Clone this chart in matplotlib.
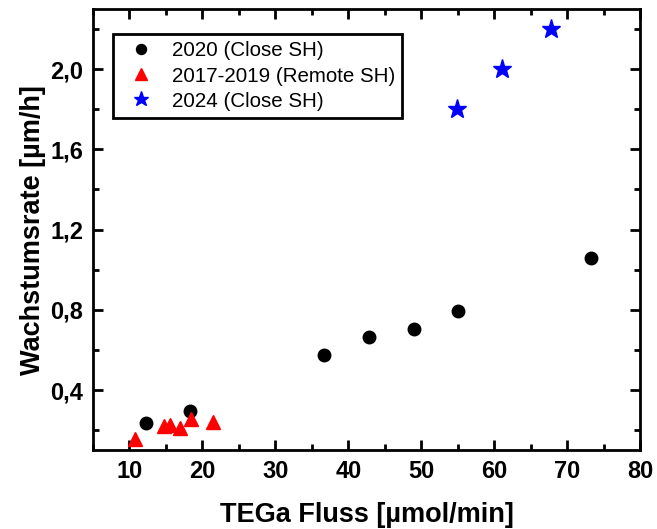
import matplotlib
matplotlib.use("Agg")
import matplotlib.pyplot as plt
from matplotlib.ticker import MultipleLocator, FuncFormatter

plt.rcParams['font.family'] = ['Liberation Sans', 'DejaVu Sans']

x_2020 = [12.2, 18.3, 36.7, 42.8, 49.0, 55.1, 73.3]
y_2020 = [0.235, 0.295, 0.575, 0.665, 0.705, 0.795, 1.06]
x_remote = [10.7, 14.8, 15.5, 16.9, 18.4, 21.4]
y_remote = [0.155, 0.22, 0.225, 0.21, 0.255, 0.24]
x_2024 = [54.9, 61.1, 67.8]
y_2024 = [1.8, 2.0, 2.2]

labels = ["2020 (Close SH)", "2017-2019 (Remote SH)", "2024 (Close SH)"]

fig = plt.figure(figsize=(6.57, 5.29), dpi=100)
ax = fig.add_axes([0.1416, 0.149, 0.8325, 0.834])

ax.plot(x_2020, y_2020, 'o', color='black', markersize=9, linestyle='none', label=labels[0])
ax.plot(x_remote, y_remote, '^', color='red', markersize=10, linestyle='none', label=labels[1])
ax.plot(x_2024, y_2024, '*', color='blue', markersize=14, linestyle='none', label=labels[2])

ax.set_xlim(5, 80)
ax.set_ylim(0.1, 2.3)
ax.xaxis.set_major_locator(MultipleLocator(10))
ax.xaxis.set_minor_locator(MultipleLocator(5))
ax.yaxis.set_major_locator(MultipleLocator(0.4))
ax.yaxis.set_minor_locator(MultipleLocator(0.2))
ax.yaxis.set_major_formatter(FuncFormatter(lambda v, p: f"{v:.1f}".replace('.', ',')))

for s in ax.spines.values():
    s.set_linewidth(2)
ax.tick_params(which='both', direction='in', top=True, right=True, width=2)
ax.tick_params(which='major', length=7, labelsize=17, pad=7)
ax.tick_params(which='minor', length=4)
for lab in ax.get_xticklabels() + ax.get_yticklabels():
    lab.set_fontweight('bold')

ax.set_xlabel("TEGa Fluss [µmol/min]", fontsize=19.5, fontweight='bold', labelpad=14)
ax.set_ylabel("Wachstumsrate [µm/h]", fontsize=19.5, fontweight='bold', labelpad=3)

leg = ax.legend(loc='upper left', bbox_to_anchor=(0.0366, 0.943), fontsize=14.8, frameon=True,
                fancybox=False, edgecolor='black', framealpha=1, handletextpad=0.45,
                borderpad=0.35, borderaxespad=0, labelspacing=0.3, handlelength=2.05,
                markerscale=0.8)
leg.get_frame().set_linewidth(2)

fig.savefig("out.png", dpi=100)
